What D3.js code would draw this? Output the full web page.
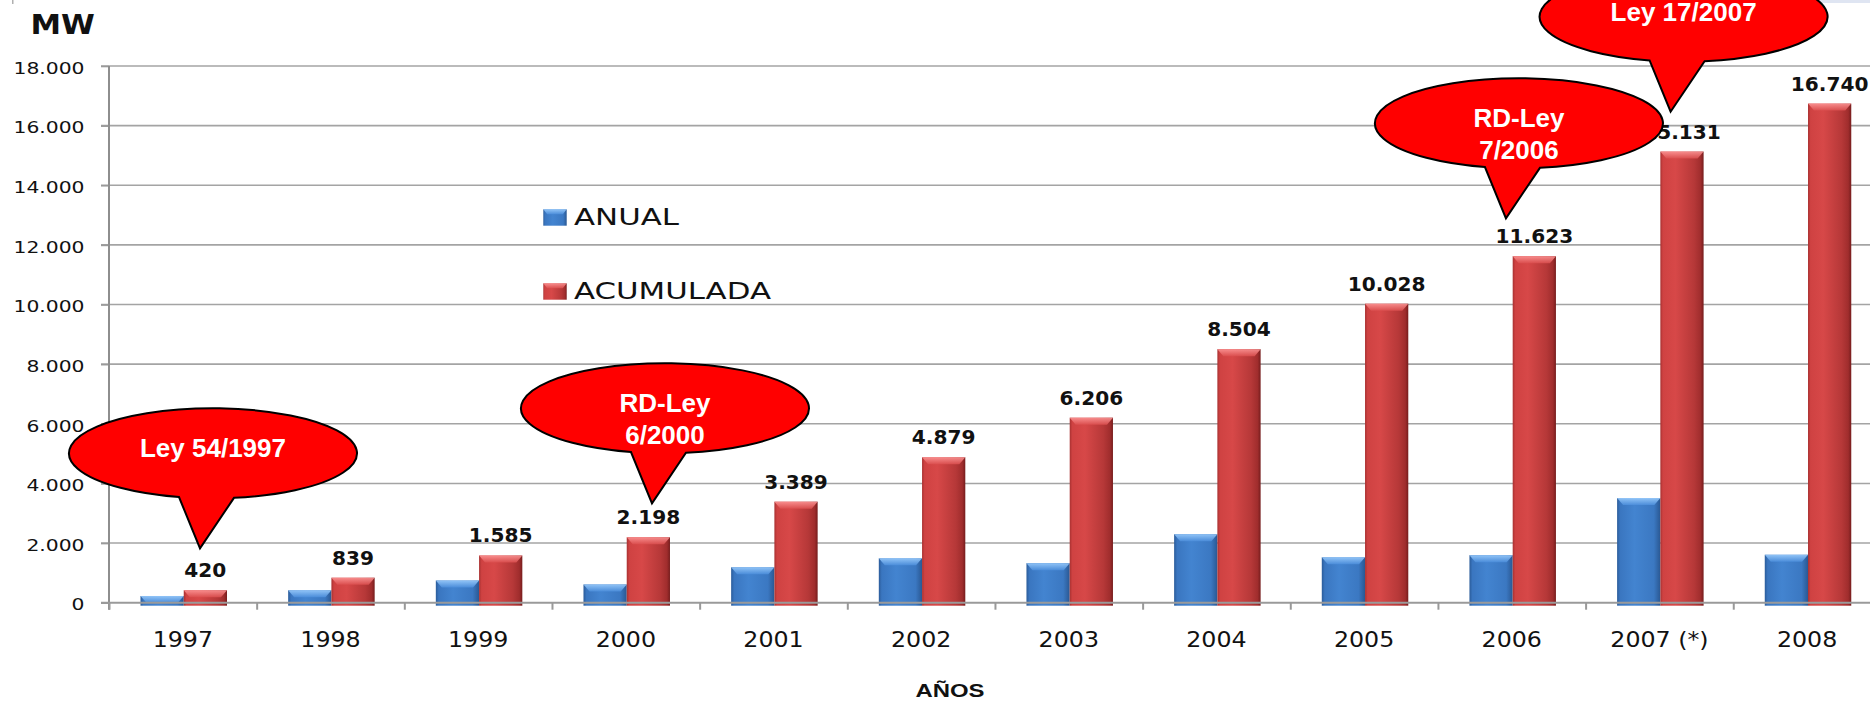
<!DOCTYPE html>
<html>
<head>
<meta charset="utf-8">
<script src="https://cdn.jsdelivr.net/npm/d3@7"></script>
<style>
  html, body { margin: 0; padding: 0; background: #fff; overflow: hidden; }
</style>
</head>
<body>
<script>
// Potencia instalada (MW) anual y acumulada

const years = ['1997', '1998', '1999', '2000', '2001', '2002', '2003', '2004', '2005', '2006', '2007 (*)', '2008']
const anual = [225, 419, 746, 613, 1191, 1490, 1327, 2298, 1524, 1595, 3508, 1609]
const acumulada = [420, 839, 1585, 2198, 3389, 4879, 6206, 8504, 10028, 11623, 15131, 16740]
const series = ['ANUAL', 'ACUMULADA']
const yTicks = [0, 2000, 4000, 6000, 8000, 10000, 12000, 14000, 16000, 18000]

// leyes señaladas: año y valor (MW) al que apunta el bocadillo
const noteYears = ['1997', '2000', '2006', '2007 (*)']
const noteValues = [1824, 3334, 12892, 16467]
const noteLines = [['Ley 54/1997'], ['RD-Ley', '6/2000'], ['RD-Ley', '7/2006'], ['Ley 17/2007']]
const noteDx = [91, 100, 68, 85] // punta del bocadillo dentro de la banda

const W = 1870, H = 701
const left = 109, step = 147.66
const right = left + years.length * step
const zeroY = 602.7, topY = 66

const fmt = d3.formatLocale({ decimal: ',', thousands: '.', grouping: [3], currency: ['', ''] }).format(',d')

const svg = d3.select('body').append('svg')
  .attr('width', W).attr('height', H)
  .style('display', 'block')

// gradientes de las barras
const defs = svg.append('defs')
function hGrad (id, stops) {
  const g = defs.append('linearGradient').attr('id', id)
    .attr('x1', 0).attr('x2', 1).attr('y1', 0).attr('y2', 0)
  stops.forEach(s => g.append('stop').attr('offset', s[0]).attr('stop-color', s[1]))
}
function vGrad (id, stops) {
  const g = defs.append('linearGradient').attr('id', id)
    .attr('x1', 0).attr('x2', 0).attr('y1', 0).attr('y2', 1)
  stops.forEach(s => g.append('stop').attr('offset', s[0]).attr('stop-color', s[1]))
}
hGrad('g-anual', [[0, '#2b5c9a'], [0.07, '#3a76c0'], [0.4, '#4384d0'], [0.85, '#3b78c2'], [1, '#2a5893']])
hGrad('g-acum', [[0, '#a83131'], [0.06, '#cf4242'], [0.35, '#d74848'], [0.78, '#b63838'], [0.93, '#a02d2d'], [1, '#761d1d']])
vGrad('t-anual', [[0, '#9fd0ff'], [1, '#4d8fdc']])
vGrad('t-acum', [[0, '#ff9a9a'], [1, '#dc5050']])
const fills = { ANUAL: 'url(#g-anual)', ACUMULADA: 'url(#g-acum)' }
const tops = { ANUAL: 'url(#t-anual)', ACUMULADA: 'url(#t-acum)' }

// restos del original en los bordes
svg.append('rect').attr('x', 1780).attr('y', 0).attr('width', 90).attr('height', 3).attr('fill', '#dfe5f2')
svg.append('rect').attr('x', 12).attr('y', 0).attr('width', 1.5).attr('height', 4).attr('fill', '#b0b0b0')

// escalas
const x0 = d3.scaleBand().domain(years).range([left, right]).padding(0)
const x1 = d3.scaleBand().domain(series).range([31.5, 31.5 + 86.5]).padding(0)
const xIdx = d3.scaleLinear().domain([0, years.length]).range([left, right])
const y = d3.scaleLinear().domain([0, 18000]).range([zeroY, topY])

// rejilla
svg.append('g')
  .selectAll('line')
  .data(yTicks.slice(1))
  .enter().append('line')
  .attr('x1', left - 8).attr('x2', W)
  .attr('y1', d => y(d)).attr('y2', d => y(d))
  .attr('stroke', '#a4a4a4').attr('stroke-width', 1.6)

// eje Y
const yAxis = svg.append('g')
  .attr('transform', `translate(${left},0)`)
  .call(d3.axisLeft(y).tickValues(yTicks).tickFormat(fmt).tickSize(8).tickSizeOuter(0))
yAxis.select('.domain').remove()
yAxis.selectAll('line').attr('stroke', '#9a9a9a').attr('stroke-width', 1.6)
yAxis.selectAll('text')
  .attr('x', -24.5 / 1.27).attr('dy', '0.45em')
  .attr('transform', 'scale(1.27,1)')
  .style('font-family', 'DejaVu Sans').style('font-size', '16px').attr('fill', '#111')
svg.append('line')
  .attr('x1', left).attr('x2', left).attr('y1', topY).attr('y2', zeroY + 7)
  .attr('stroke', '#8e8e8e').attr('stroke-width', 2)

// marcas entre categorías
const tickAxis = svg.append('g')
  .attr('transform', `translate(0,${zeroY})`)
  .call(d3.axisBottom(xIdx).ticks(years.length).tickFormat('').tickSize(7).tickSizeOuter(0))
tickAxis.select('.domain').remove()
tickAxis.selectAll('line').attr('stroke', '#999').attr('stroke-width', 2)

// barras
const rows = years.map((yr, i) => ({ year: yr, ANUAL: anual[i], ACUMULADA: acumulada[i] }))
const group = svg.append('g').selectAll('g')
  .data(rows)
  .enter().append('g')
  .attr('transform', d => `translate(${x0(d.year)},0)`)

const bars = group.selectAll('g')
  .data(d => series.map(s => ({ key: s, value: d[s] })))
  .enter().append('g')

bars.append('rect')
  .attr('x', d => x1(d.key))
  .attr('y', d => y(d.value))
  .attr('width', x1.bandwidth())
  .attr('height', d => zeroY - y(d.value) + 3)
  .attr('fill', d => fills[d.key])

bars.append('path')
  .attr('d', d => {
    const bx = x1(d.key), bw = x1.bandwidth(), t = y(d.value)
    const h = Math.min(7, zeroY - t)
    return `M${bx},${t}H${bx + bw}L${bx + bw - 6},${t + h}H${bx + 6}Z`
  })
  .attr('fill', d => tops[d.key])
  .attr('opacity', 0.85)

// línea base
svg.append('line')
  .attr('x1', left - 8).attr('x2', W).attr('y1', zeroY).attr('y2', zeroY)
  .attr('stroke', '#9a9a9a').attr('stroke-width', 2)

// etiquetas de la serie acumulada
group.append('text')
  .attr('transform', d => `translate(${x1('ACUMULADA') + x1.bandwidth() / 2},${y(d.ACUMULADA) - 13}) scale(1.06,1)`)
  .attr('text-anchor', 'middle')
  .style('font-family', 'DejaVu Sans').style('font-weight', 'bold').style('font-size', '19px')
  .attr('fill', '#111')
  .text(d => fmt(d.ACUMULADA))

// eje X (años)
const xAxis = svg.append('g')
  .attr('transform', `translate(0,${zeroY})`)
  .call(d3.axisBottom(x0).tickSize(0).tickSizeOuter(0))
xAxis.select('.domain').remove()
xAxis.selectAll('text')
  .attr('y', 44).attr('dy', 0)
  .attr('transform', 'scale(1.13,1)')
  .style('font-family', 'DejaVu Sans').style('font-size', '21px').attr('fill', '#111')

// títulos de los ejes
svg.append('text')
  .attr('transform', 'translate(30.5,34.3) scale(1.18,1)')
  .style('font-family', 'DejaVu Sans').style('font-weight', 'bold').style('font-size', '26px')
  .attr('fill', '#111')
  .text('MW')
svg.append('text')
  .attr('transform', 'translate(950,696.5) scale(1.28,1)')
  .attr('text-anchor', 'middle')
  .style('font-family', 'Liberation Sans').style('font-weight', 'bold').style('font-size', '18.7px')
  .attr('fill', '#111')
  .text('AÑOS')

// leyenda
const legend = svg.append('g').selectAll('g')
  .data(series)
  .enter().append('g')
  .attr('transform', (d, i) => `translate(543.3,${209.3 + i * 74})`)
legend.append('rect')
  .attr('width', 23.4).attr('height', 16.4)
  .attr('fill', d => fills[d])
legend.append('path')
  .attr('d', 'M0,0H23.4L19.5,5H3.9Z')
  .attr('fill', d => tops[d]).attr('opacity', 0.85)
legend.append('text')
  .attr('transform', 'translate(30.7,16) scale(1.34,1)')
  .style('font-family', 'DejaVu Sans').style('font-size', '23px')
  .attr('fill', '#111')
  .text(d => d)

// bocadillos de las leyes
const rx = 144, ry = 45
const notes = noteYears.map((yr, i) => {
  const tx = x0(yr) + noteDx[i], ty = y(noteValues[i])
  return { tx, ty, cx: tx + 13, cy: ty - 95, lines: noteLines[i] }
})
function onEllipse (n, px) {
  const u = (px - n.cx) / rx
  return n.cy + ry * Math.sqrt(1 - u * u)
}
const callouts = svg.append('g').selectAll('g')
  .data(notes)
  .enter().append('g')
callouts.append('path')
  .attr('d', n => {
    const xl = n.cx - 34, xr = n.cx + 21
    const yl = onEllipse(n, xl), yr = onEllipse(n, xr)
    return `M${xr},${yr}A${rx},${ry} 0 1 0 ${xl},${yl}L${n.tx},${n.ty}Z`
  })
  .attr('fill', '#ff0000')
  .attr('stroke', '#000').attr('stroke-width', 2).attr('stroke-linejoin', 'miter')
callouts.each(function (n) {
  const t = d3.select(this).append('text')
    .attr('text-anchor', 'middle')
    .style('font-family', 'Liberation Sans').style('font-weight', 'bold').style('font-size', '26px')
    .attr('fill', '#fff')
  n.lines.forEach((ln, j) => {
    t.append('tspan').attr('x', n.cx).attr('y', n.cy + 4 + j * 31.6).text(ln)
  })
})
</script>
</body>
</html>
